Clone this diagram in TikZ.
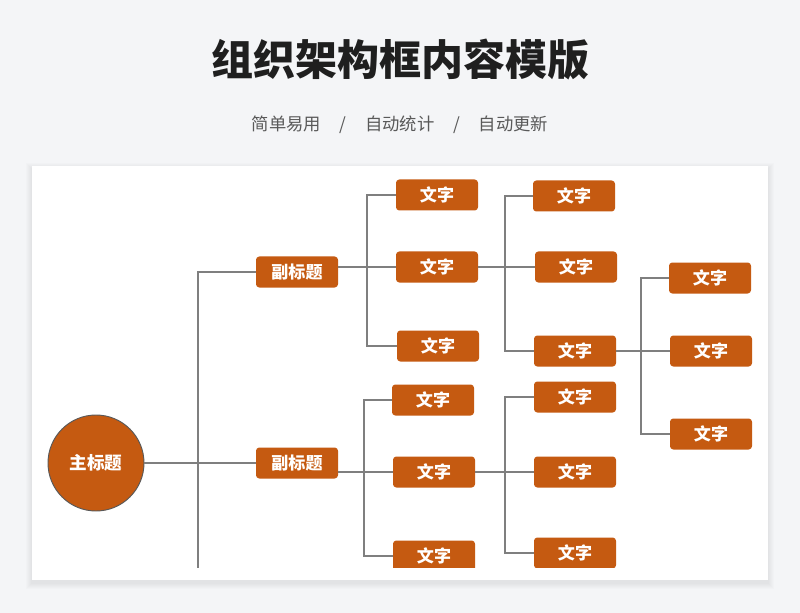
\documentclass[tikz,border=0pt]{standalone}
\usepackage{fontspec}
\newfontfamily\cjk{Noto Sans CJK SC}
\definecolor{pagebg}{HTML}{F4F5F7}
\definecolor{orgorange}{HTML}{C55A11}
\definecolor{linkgray}{HTML}{7F7F7F}
\tikzset{
  txtb/.style={fill=orgorange, rounded corners=2.5pt, minimum width=61.5pt,
    minimum height=23.25pt, inner sep=0pt, text=white,
    font=\cjk\bfseries\fontsize{12.8}{14}\selectfont},
  subb/.style={txtb},
  rootb/.style={circle, draw=black!65, line width=0.7pt, fill=orgorange,
    minimum size=72pt, inner sep=0pt, text=white,
    font=\cjk\bfseries\fontsize{13.2}{15}\selectfont},
  link/.style={draw=linkgray, line width=1pt},
  ttl/.style={font=\cjk\bfseries\fontsize{31.5}{36}\selectfont, text=black!88},
  subttl/.style={font=\cjk\fontsize{13}{15}\selectfont, text=black!65},
}

\begin{document}
\begin{tikzpicture}[x=0.75pt, y=-0.75pt]
  \useasboundingbox[fill=pagebg] (0,0) rectangle (800,613);
  % heading
  \node[ttl] (title) at (400,60) {组织架构框内容模版};
  \node[subttl] (tagline) at (400,125) {简单易用\hspace{14pt}/\hspace{14pt}自动统计\hspace{14pt}/\hspace{14pt}自动更新};
  % card with soft shadow
  \foreach \k in {1,...,6}
    \fill[black, opacity=0.012] (32-\k,166+3-\k) rectangle (768+\k,580+3+\k);
  \fill[white] (32,166) rectangle (768,580);
  \begin{scope}
    \clip (32,166) rectangle (768,567);
    % root and trunk
    \node[rootb] (root) at (96,463) {主标题};
    \node[subb] (subA) at (297,272) {副标题};
    \node[subb] (subB) at (297,463) {副标题};
    \coordinate (trunk) at (198,600);
    % upper branch
    \node[txtb] (a1) at (437,195) {文字};
    \node[txtb] (a2) at (437,267) {文字};
    \node[txtb] (a3) at (438,346) {文字};
    \node[txtb] (b1) at (574,196) {文字};
    \node[txtb] (b2) at (576,267) {文字};
    \node[txtb] (b3) at (575,351) {文字};
    \node[txtb] (c1) at (710,278) {文字};
    \node[txtb] (c2) at (711,351) {文字};
    \node[txtb] (c3) at (711,434) {文字};
    % lower branch
    \node[txtb] (d1) at (433,400) {文字};
    \node[txtb] (d2) at (434,472) {文字};
    \node[txtb] (d3) at (434,556) {文字};
    \node[txtb] (e1) at (575,397) {文字};
    \node[txtb] (e2) at (575,472) {文字};
    \node[txtb] (e3) at (575,553) {文字};
    % hubs
    \coordinate (hubA) at (367,267);
    \coordinate (hubB) at (505,267);
    \coordinate (hubC) at (641,351);
    \coordinate (hubD) at (364,472);
    \coordinate (hubE) at (505,472);
    % connectors
    \draw[link] (subA.west) -| (trunk);
    \draw[link] (root) -- (subB);
    \draw[link] (subA.east |- a2.west) -- (a2.west);
    \draw[link] (a1.west) -| (hubA) |- (a3.west);
    \draw[link] (a2.east) -- (b2.west);
    \draw[link] (b1.west) -| (hubB) |- (b3.west);
    \draw[link] (b3.east) -- (c2.west);
    \draw[link] (c1.west) -| (hubC) |- (c3.west);
    \draw[link] (subB.east |- d2.west) -- (d2.west);
    \draw[link] (d1.west) -| (hubD) |- (d3.west);
    \draw[link] (d2.east) -- (e2.west);
    \draw[link] (e1.west) -| (hubE) |- (e3.west);
  \end{scope}
\end{tikzpicture}
\end{document}
